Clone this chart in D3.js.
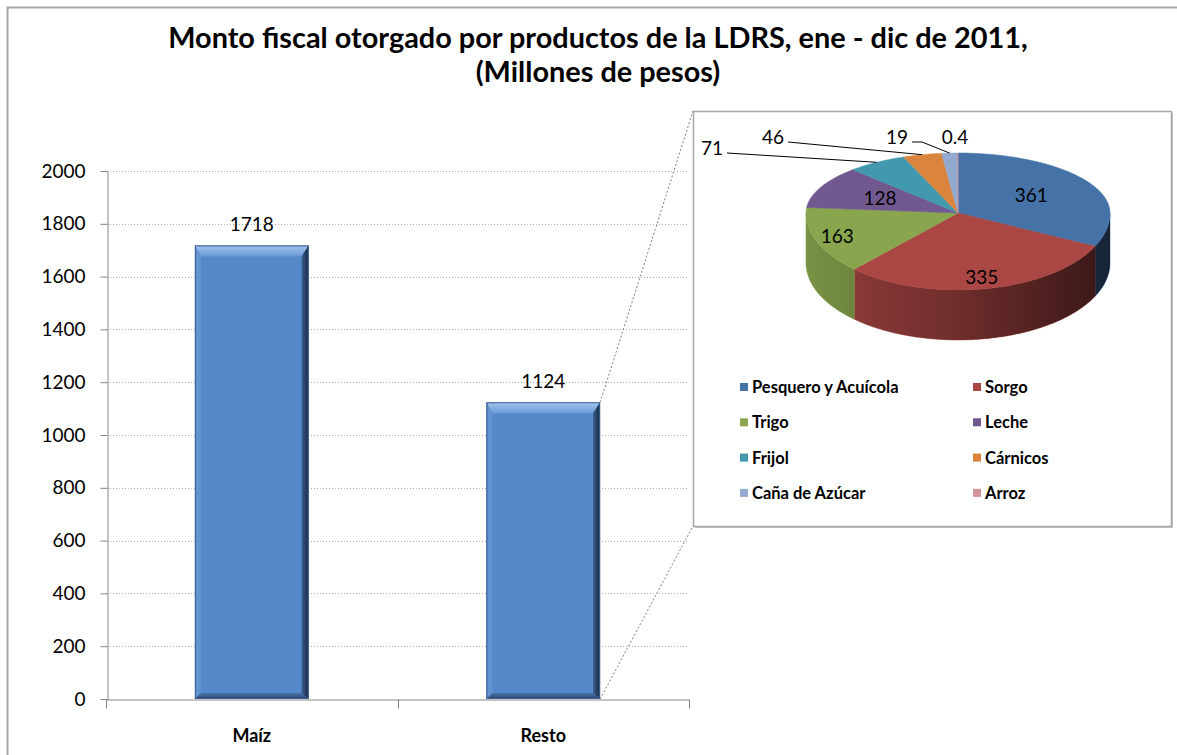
<html>
<head>
<style>
  body { margin: 0; background: #fff; }
  text { font-family: Lato, "Liberation Sans", sans-serif; fill: #000; }
</style>
</head>
<body>
<svg id="chart" width="1177" height="755"></svg>
<script src="https://d3js.org/d3.v7.min.js"></script>
<script>
// ---- data ----
let categories = ["Maíz", "Resto"]
let amounts = [1718, 1124]
let yTicks = [0, 200, 400, 600, 800, 1000, 1200, 1400, 1600, 1800, 2000]

let products = ["Pesquero y Acuícola", "Sorgo", "Trigo", "Leche", "Frijol", "Cárnicos", "Caña de Azúcar", "Arroz"]
let productValues = [361, 335, 163, 128, 71, 46, 19, 0.4]
let productLabels = ["361", "335", "163", "128", "71", "46", "19", "0.4"]

let titleLines = ["Monto fiscal otorgado por productos de la LDRS, ene - dic de 2011,", "(Millones de pesos)"]

// ---- styles ----
let sliceColors = ["#4572A7", "#AA4643", "#89A54E", "#71588F", "#4198AF", "#DB843D", "#93A9CF", "#D09594"]

let svg = d3.select("#chart")
let defs = svg.append("defs")

svg.append("rect").attr("width", 1177).attr("height", 755).attr("fill", "#fff")
// outer chart border (runs off the right / bottom edge)
svg.append("rect")
    .attr("x", 7.5).attr("y", 7.5).attr("width", 1200).attr("height", 800)
    .attr("fill", "none").attr("stroke", "#a6a6a6").attr("stroke-width", 2)

// ---- title ----
let title = svg.append("g")
title.selectAll("text").data(titleLines).join("text")
    .attr("x", 598)
    .attr("y", (d, i) => 48 + i * 34)
    .attr("text-anchor", "middle")
    .attr("font-weight", "bold")
    .attr("font-size", 26)
    .text(d => d)
// fit first line to the reference width
let w0 = title.select("text").node().getComputedTextLength()
let fs = 26 * 860 / w0
title.selectAll("text").attr("font-size", fs)

// ---- bar chart ----
let y = d3.scaleLinear().domain([0, 2000]).range([699, 171])
let x = d3.scaleBand().domain(categories).range([106, 689]).paddingInner(0.61).paddingOuter(0.305)

// dotted gridlines
svg.append("g").selectAll("line").data(yTicks.filter(d => d > 0)).join("line")
    .attr("x1", 107).attr("x2", 689)
    .attr("y1", d => Math.round(y(d)) + 0.5).attr("y2", d => Math.round(y(d)) + 0.5)
    .attr("stroke", "#a9a9a9").attr("stroke-dasharray", "1,2")

let yAxis = svg.append("g")
    .attr("transform", "translate(107.5,0)")
    .call(d3.axisLeft(y).tickValues(yTicks).tickFormat(d3.format("d")).tickSize(7).tickPadding(15).tickSizeOuter(0))
yAxis.selectAll("line, path").attr("stroke", "#868686")
yAxis.selectAll("text").attr("font-size", 19).attr("font-family", "Lato").attr("fill", "#000")

let xAxis = svg.append("g")
    .attr("transform", "translate(0,699.5)")
    .call(d3.axisBottom(x).tickSize(0).tickPadding(30).tickSizeOuter(0))
xAxis.select("path").attr("stroke", "#868686")
xAxis.selectAll("text").attr("font-size", 18).attr("font-weight", "bold").attr("font-family", "Lato").attr("fill", "#000")
// tick marks between categories (Excel style)
let step = x.step()
let bounds = [x.range()[0]].concat(categories.map(c => x(c) + x.bandwidth() / 2 + step / 2))
xAxis.selectAll(".sep").data(bounds).join("line")
    .attr("class", "sep")
    .attr("x1", d => Math.round(d) + 0.5).attr("x2", d => Math.round(d) + 0.5)
    .attr("y1", 0).attr("y2", 9)
    .attr("stroke", "#868686")

// bevel gradients
let gTop = defs.append("linearGradient").attr("id", "bevTop").attr("x1", 0).attr("y1", 0).attr("x2", 0).attr("y2", 1)
gTop.append("stop").attr("offset", 0).attr("stop-color", "#a3c5ee")
gTop.append("stop").attr("offset", 1).attr("stop-color", "#6a9ad6")
let gRight = defs.append("linearGradient").attr("id", "bevRight").attr("x1", 0).attr("y1", 0).attr("x2", 1).attr("y2", 0)
gRight.append("stop").attr("offset", 0).attr("stop-color", "#3a5f90")
gRight.append("stop").attr("offset", 1).attr("stop-color", "#17263d")
let gBot = defs.append("linearGradient").attr("id", "bevBot").attr("x1", 0).attr("y1", 0).attr("x2", 0).attr("y2", 1)
gBot.append("stop").attr("offset", 0).attr("stop-color", "#4a74aa")
gBot.append("stop").attr("offset", 1).attr("stop-color", "#2c4468")

let bars = svg.append("g").selectAll("g").data(amounts).join("g")
bars.each(function (v, i) {
    let g = d3.select(this)
    let x0 = x(categories[i]), x1 = x0 + x.bandwidth()
    let y0 = y(v), y1 = y(0)
    let bt = 11, bl = 6, br = 7, bb = 6
    g.append("rect").attr("x", x0).attr("y", y0).attr("width", x1 - x0).attr("height", y1 - y0).attr("fill", "#5689c9")
    g.append("path").attr("d", `M${x0},${y0}L${x1},${y0}L${x1 - br},${y0 + bt}L${x0 + bl},${y0 + bt}Z`).attr("fill", "url(#bevTop)")
    g.append("path").attr("d", `M${x0},${y0}L${x0 + bl},${y0 + bt}L${x0 + bl},${y1 - bb}L${x0},${y1}Z`).attr("fill", "#6393d0")
    g.append("path").attr("d", `M${x1},${y0}L${x1},${y1}L${x1 - br},${y1 - bb}L${x1 - br},${y0 + bt}Z`).attr("fill", "url(#bevRight)")
    g.append("path").attr("d", `M${x0},${y1}L${x0 + bl},${y1 - bb}L${x1 - br},${y1 - bb}L${x1},${y1}Z`).attr("fill", "url(#bevBot)")
    g.append("rect").attr("x", x0 + 0.5).attr("y", y0 + 0.5).attr("width", x1 - x0 - 1).attr("height", y1 - y0 - 1)
        .attr("fill", "none").attr("stroke", "#3a5f8e").attr("stroke-width", 1)
    g.append("text")
        .attr("x", (x0 + x1) / 2).attr("y", y0 - 14)
        .attr("text-anchor", "middle").attr("font-size", 19)
        .text(v)
})

// ---- pie panel ----
let box = { x: 693, y: 111, w: 478, h: 415 }
let rest = categories.indexOf("Resto")
let rx1 = x(categories[rest]) + x.bandwidth()
svg.append("g").selectAll("line")
    .data([[y(amounts[rest]), box.y], [y(0), box.y + box.h]])
    .join("line")
    .attr("x1", rx1).attr("y1", d => d[0])
    .attr("x2", box.x).attr("y2", d => d[1])
    .attr("stroke", "#808080").attr("stroke-dasharray", "2,2")

svg.append("rect")
    .attr("x", box.x + 2).attr("y", box.y + 2).attr("width", box.w).attr("height", box.h)
    .attr("fill", "#c4c4c4")
svg.append("rect")
    .attr("x", box.x + 0.5).attr("y", box.y + 0.5).attr("width", box.w).attr("height", box.h)
    .attr("fill", "#fff").attr("stroke", "#a6a6a6").attr("stroke-width", 1.5)

// 3D pie geometry
let cx = 958, cy = 213, rx = 152, ryBack = 60, ryFront = 77, depth = 50
function pt(a, dy) {
    let c = Math.cos(a)
    return [cx + rx * Math.sin(a), cy - (c > 0 ? ryBack : ryFront) * c + (dy || 0)]
}
function arcPts(a0, a1, dy) {
    let n = Math.max(2, Math.ceil((a1 - a0) / 0.01))
    return d3.range(n + 1).map(i => pt(a0 + (a1 - a0) * i / n, dy))
}
let color = d3.scaleOrdinal().domain(products).range(sliceColors)
let arcs = d3.pie().sort(null).value(d => d)(productValues)

let shade = defs.append("linearGradient").attr("id", "sideShade")
    .attr("gradientUnits", "userSpaceOnUse")
    .attr("x1", cx - rx).attr("y1", 0).attr("x2", cx + rx).attr("y2", 0)
shade.append("stop").attr("offset", 0).attr("stop-color", "#000").attr("stop-opacity", 0.12)
shade.append("stop").attr("offset", 0.5).attr("stop-color", "#000").attr("stop-opacity", 0.35)
shade.append("stop").attr("offset", 1).attr("stop-color", "#000").attr("stop-opacity", 0.68)

let pieG = svg.append("g")
// side walls (front half only)
arcs.forEach((a, i) => {
    let a0 = Math.max(a.startAngle, Math.PI / 2), a1 = Math.min(a.endAngle, 3 * Math.PI / 2)
    if (a1 <= a0) return
    let pts = arcPts(a0, a1, 0).concat(arcPts(a0, a1, depth).reverse())
    let d = "M" + pts.map(p => p.join(",")).join("L") + "Z"
    pieG.append("path").attr("d", d).attr("fill", color(products[i])).attr("stroke", color(products[i])).attr("stroke-width", 0.5)
    pieG.append("path").attr("d", d).attr("fill", "url(#sideShade)")
})
// top faces
arcs.forEach((a, i) => {
    let pts = [[cx, cy]].concat(arcPts(a.startAngle, a.endAngle, 0))
    pieG.append("path")
        .attr("d", "M" + pts.map(p => p.join(",")).join("L") + "Z")
        .attr("fill", color(products[i]))
        .attr("stroke", color(products[i])).attr("stroke-width", 0.5)
})

// slice labels: big slices inside, small ones outside with leader lines
let outerOffsets = { 4: [-246, -65], 5: [-185, -76], 6: [-61, -76], 7: [-3, -76] }
arcs.forEach((a, i) => {
    let mid = (a.startAngle + a.endAngle) / 2
    if (outerOffsets[i] === undefined) {
        let back = Math.cos(mid) > 0
        let k = back ? 0.57 : 0.85
        let p = [cx + rx * k * Math.sin(mid), cy - (back ? ryBack : ryFront) * k * Math.cos(mid)]
        pieG.append("text").attr("x", p[0]).attr("y", p[1] + 7)
            .attr("text-anchor", "middle").attr("font-size", 19).text(productLabels[i])
    } else {
        let o = outerOffsets[i]
        let lx = cx + o[0], ly = cy + o[1]
        let t = pieG.append("text").attr("x", lx).attr("y", ly + 7)
            .attr("text-anchor", "middle").attr("font-size", 19).text(productLabels[i])
        if (a.value >= 1) {
            let tw = t.node().getComputedTextLength()
            let rim = pt(mid, 0)
            let sx = lx + tw / 2 + 4
            let pts = i === 6 ? [[sx, ly + 5], [sx + 10, ly + 5], rim] : [[sx, ly + 5], rim]
            pieG.append("path")
                .attr("d", "M" + pts.map(p => p.join(",")).join("L"))
                .attr("fill", "none").attr("stroke", "#000").attr("stroke-width", 1)
        }
    }
})

// legend
let legend = svg.append("g").selectAll("g").data(products).join("g")
    .attr("transform", (d, i) => `translate(${i % 2 ? 973 : 740},${387 + Math.floor(i / 2) * 35.3})`)
legend.append("rect").attr("x", 0).attr("y", -4).attr("width", 8).attr("height", 8).attr("fill", d => color(d))
legend.append("text").attr("x", 12).attr("y", 6)
    .attr("font-size", 16.5).attr("font-weight", "bold")
    .text(d => d)
</script>
</body>
</html>
